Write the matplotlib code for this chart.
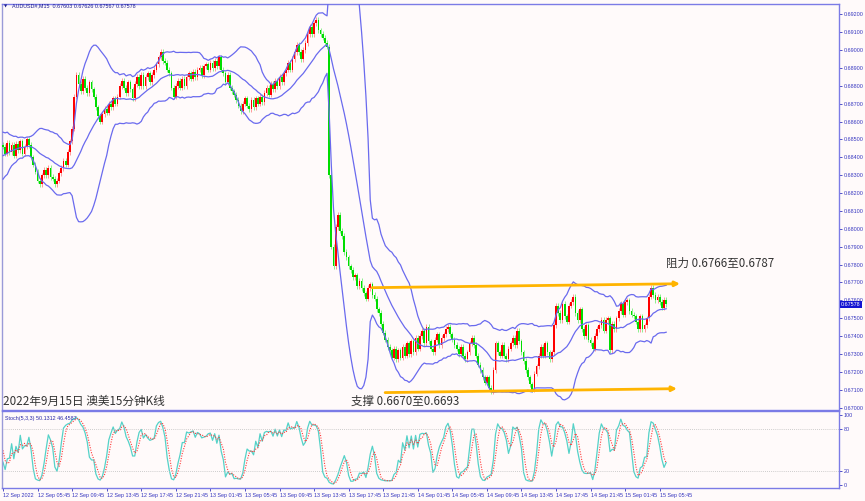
import numpy as np
import pandas as pd
import matplotlib
matplotlib.use('Agg')
import matplotlib.pyplot as plt

# AUDUSD M15 closes, in points (1e-5). pre_pts are bars left of the window (band warm-up)
pre_pts = [68300, 68330, 68280, 68320, 68350, 68380, 68360, 68400, 68420, 68390,
           68430, 68460, 68440, 68480, 68470, 68500, 68490, 68460, 68470]
close_pts = [
    68460, 68420, 68480, 68430, 68470, 68410, 68475, 68440, 68490, 68420, 68460, 68500, 68470,
    68400, 68360, 68320, 68270, 68250, 68300, 68330,
    68300, 68340, 68290, 68280, 68250, 68270, 68310,
    68340, 68380, 68360, 68430, 68490, 68560,
    68740, 68860,
    68810, 68770, 68840, 68790, 68760, 68820, 68780, 68740,
    68680, 68630, 68600, 68640,
    68670, 68650, 68700, 68680, 68730, 68700, 68740,
    68800, 68830, 68790, 68760, 68820, 68780, 68730,
    68810, 68850, 68800, 68860, 68800, 68850, 68870, 68820, 68860,
    68890, 68920, 68960, 68990, 68940, 68930, 68890,
    68870, 68790, 68740, 68800, 68830, 68790, 68840,
    68800, 68850, 68870, 68840, 68880, 68850, 68890, 68900, 68860, 68910, 68920,
    68890, 68930, 68900, 68940, 68910, 68960, 68890,
    68870, 68820, 68860, 68790, 68770, 68750, 68720, 68690, 68660,
    68700, 68730, 68690, 68670, 68720, 68680, 68730, 68700,
    68740, 68710, 68760, 68790, 68750, 68810, 68780, 68830, 68800, 68850, 68820, 68870,
    68890, 68930, 68890, 68950, 68990, 69030, 68990, 68950,
    69000, 69040, 69090, 69130, 69090, 69150, 69170,
    69110, 69090, 69070, 69040, 69020,
    68300, 67900, 67790, 68010, 68080, 67990, 67960, 67870, 67840, 67790,
    67770, 67730, 67740, 67680, 67710,
    67670, 67640, 67610, 67670, 67690, 67630,
    67610, 67550, 67530, 67470, 67420,
    67380, 67340, 67320, 67280, 67330, 67270, 67320, 67280, 67340, 67290,
    67360, 67300, 67370, 67310, 67390, 67330, 67400, 67430, 67360, 67450, 67370, 67330, 67310,
    67380, 67410, 67350, 67390, 67410, 67440,
    67450, 67410, 67380,
    67350, 67330, 67300, 67340, 67290, 67270, 67310,
    67360, 67390, 67350,
    67290, 67240, 67210, 67170, 67140, 67170, 67110, 67090,
    67210, 67360, 67310, 67290, 67350,
    67290, 67270, 67330, 67360, 67390, 67350, 67430,
    67370, 67310, 67260, 67210, 67170, 67130, 67100,
    67190, 67230,
    67290, 67340, 67290, 67360, 67310, 67270, 67310,
    67460, 67570,
    67530, 67490, 67580, 67510, 67480, 67570, 67590, 67620, 67530,
    67490, 67550,
    67440, 67400, 67460, 67380, 67360, 67330, 67400, 67440,
    67460, 67490, 67430, 67490, 67500, 67320, 67470,
    67440, 67500,
    67540, 67580, 67520, 67590, 67600, 67540, 67520, 67510,
    67480, 67440, 67510, 67440, 67460, 67500,
    67620, 67670,
    67630, 67600, 67620, 67590, 67560, 67603, 67578,
]
time_labels = ['12 Sep 2022', '12 Sep 05:45', '12 Sep 09:45', '12 Sep 13:45', '12 Sep 17:45',
               '12 Sep 21:45', '13 Sep 01:45', '13 Sep 05:45', '13 Sep 09:45', '13 Sep 13:45',
               '13 Sep 17:45', '13 Sep 21:45', '14 Sep 01:45', '14 Sep 05:45', '14 Sep 09:45',
               '14 Sep 13:45', '14 Sep 17:45', '14 Sep 21:45', '15 Sep 01:45', '15 Sep 05:45']
res_x, res_y = [170.8, 313.4], [0.67671, 0.67693]
sup_x, sup_y = [176.9, 312.0], [0.67084, 0.67106]

n_pre = len(pre_pts)
allc = pd.Series(np.array(pre_pts + close_pts) / 1e5)
opn = allc.shift(1).fillna(allc.iloc[0])
wick = 0.00015
high = np.maximum(opn, allc) + wick
low = np.minimum(opn, allc) - wick

mid = allc.rolling(20, min_periods=1).mean()
sd = allc.rolling(20, min_periods=1).std(ddof=0)
upper, lower = mid + 2 * sd, mid - 2 * sd

hh = high.rolling(5, min_periods=1).max()
ll = low.rolling(5, min_periods=1).min()
k = 100 * (allc - ll).rolling(3, min_periods=1).sum() / (hh - ll).rolling(3, min_periods=1).sum()
d = k.rolling(3, min_periods=1).mean()

x = np.arange(len(allc)) - n_pre
c = allc.values
o = opn.values
v = x >= 0

bg = '#fffafa'
frame = '#7b7be6'
tcol = '#3535c0'
small = dict(family='Liberation Sans', fontsize=3.9)

fig = plt.figure(figsize=(8.65, 5.01), dpi=100, facecolor=bg)
ax = fig.add_axes([2/865, 1-410/501, 837/865, 406/501], facecolor=bg)
ax2 = fig.add_axes([2/865, 1-488/501, 837/865, 77/501], facecolor=bg, sharex=ax)

# candles
up = v & (c >= o)
dn = v & (c < o)
ax.vlines(x[up], low[up], high[up], color='#ff9a9a', lw=0.7, zorder=2)
ax.vlines(x[dn], low[dn], high[dn], color='#8cf08c', lw=0.7, zorder=2)
ax.bar(x[up], np.maximum(c[up]-o[up], 0.00002), bottom=o[up], width=0.8, color='#ff0000', lw=0, zorder=3)
ax.bar(x[dn], np.maximum(o[dn]-c[dn], 0.00002), bottom=c[dn], width=0.8, color='#00dd00', lw=0, zorder=3)

# bollinger bands 20,2
for s in (upper, mid, lower):
    ax.plot(x[v], s.values[v], color='#6a6aee', lw=0.9, zorder=4)

# support / resistance arrows
for xs, ys in ((res_x, res_y), (sup_x, sup_y)):
    ax.annotate('', xy=(xs[1], ys[1]), xytext=(xs[0], ys[0]),
                arrowprops=dict(arrowstyle='-|>', color='#ffb400', lw=2, mutation_scale=7,
                                shrinkA=0, shrinkB=0), zorder=5)

cjk = ['Noto Sans CJK SC', 'DejaVu Sans']
ax.text(0, 0.67037, '2022年9月15日 澳美15分钟K线', family=cjk, fontsize=8.4, color='#333333', va='center', ha='left')
ax.text(161.1, 0.67037, '支撑 0.6670至0.6693', family=cjk, fontsize=8.3, color='#333333', va='center', ha='left')
ax.text(307.0, 0.67809, '阻力 0.6766至0.6787', family=cjk, fontsize=8.3, color='#333333', va='center', ha='left')

ax.set_xlim(-0.46, 387.0)
ax.set_ylim(0.669866, 0.69258)
ax.yaxis.tick_right()
ax.set_yticks(np.arange(0.670, 0.69201, 0.001))
ax.set_yticklabels(['%.5f' % t for t in np.arange(0.670, 0.69201, 0.001)], **small)
ax.tick_params(axis='y', length=2, width=0.6, colors=tcol, pad=1.5)
ax.tick_params(axis='x', bottom=False, labelbottom=False)

ax.annotate('%.5f' % c[-1], xy=(1.0, c[-1]), xycoords=('axes fraction', 'data'),
            xytext=(1.5, 0), textcoords='offset points', ha='left', va='center',
            color='white', bbox=dict(boxstyle='square,pad=0.2', fc='#1414d2', ec='none'), **small)

# stochastic 5,3,3
ax2.plot(x[v], k.values[v], color='#55d2c8', lw=0.9)
ax2.plot(x[v], d.values[v], color='#ff3a3a', lw=0.8, ls=(0, (1, 1.3)))
for lv in (80, 20):
    ax2.axhline(lv, color='#bdbdbd', lw=0.6, ls=(0, (1, 1.5)))
ax2.set_ylim(-4.3, 105.7)
ax2.yaxis.tick_right()
ax2.set_yticks([0, 20, 80, 100])
ax2.set_yticklabels(['0', '20', '80', '100'], **small)
ax2.tick_params(axis='y', length=2, width=0.6, colors=tcol, pad=1.5)
ax2.set_xticks(np.arange(0, 16 * len(time_labels), 16))
ax2.set_xticklabels(time_labels, **small)
for lb in ax2.get_xticklabels():
    lb.set_ha('left')
ax2.tick_params(axis='x', length=2.5, width=0.6, colors=tcol, pad=1)
ax2.text(0.004, 0.93, 'Stoch(5,3,3) 50.1312 46.4587', transform=ax2.transAxes, color='#2a2aa8', va='top', **small)

for a in (ax, ax2):
    for sp in a.spines.values():
        sp.set_color(frame)
        sp.set_linewidth(1)
ax.spines['left'].set_color('#9a9ad8')
ax2.spines['left'].set_color('#9a9ad8')

fig.text(12/865, 1-6/501, 'AUDUSD#,M15  0.67603 0.67626 0.67567 0.67578', color='#1e1e90', va='center', **small)
fig.text(4/865, 1-6/501, '\u25bc', family='DejaVu Sans', fontsize=3, color='#1e1e90', va='center')

fig.savefig('out.png', dpi=100, facecolor=bg)
